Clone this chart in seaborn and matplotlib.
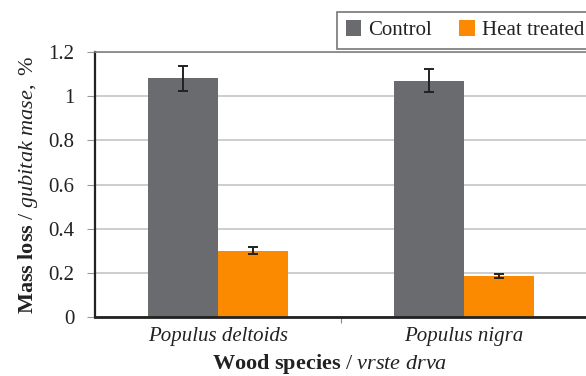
import matplotlib
matplotlib.use("Agg")
import matplotlib.pyplot as plt
import seaborn as sns
import pandas as pd
from matplotlib.patches import Patch

species = ["Populus deltoids", "Populus nigra"]
treatments = ["Control", "Heat treated"]
control_loss = [1.08, 1.07]
control_err = [0.055, 0.053]
heat_loss = [0.30, 0.186]
heat_err = [0.016, 0.010]
y_ticks = [0, 0.2, 0.4, 0.6, 0.8, 1.0, 1.2]
y_tick_labels = ["0", "0.2", "0.4", "0.6", "0.8", "1", "1.2"]

colors = {"Control": "#6a6b6f", "Heat treated": "#fb8a00"}

df = pd.DataFrame({
    "species": species * 2,
    "treatment": ["Control"] * 2 + ["Heat treated"] * 2,
    "loss": control_loss + heat_loss,
    "err": control_err + heat_err,
})

sns.set_style("white")
plt.rcParams["font.family"] = ["Liberation Serif", "DejaVu Serif"]
plt.rcParams["mathtext.fontset"] = "custom"
plt.rcParams["mathtext.rm"] = "Liberation Serif"
plt.rcParams["mathtext.bf"] = "Liberation Serif:bold"
plt.rcParams["mathtext.it"] = "Liberation Serif:italic"

fig = plt.figure(figsize=(5.86, 3.76), dpi=100)
ax = fig.add_axes([95 / 586, 59 / 376, 492 / 586, 265 / 376])

sns.barplot(data=df, x="species", y="loss", hue="treatment", order=species,
            hue_order=treatments, palette=colors, width=0.57, gap=0,
            errorbar=None, saturation=1, linewidth=0, legend=False, ax=ax)

# error bars at the centres of the drawn bars
for patch, (_, row) in zip(ax.patches, df.iterrows()):
    cx = patch.get_x() + patch.get_width() / 2
    ax.errorbar(cx, patch.get_height(), yerr=row["err"], fmt="none",
                ecolor="#222222", elinewidth=1.4, capsize=3.4, capthick=1.4,
                zorder=5)

ax.set_xlim(-0.5, 1.5)
ax.set_ylim(0, 1.2)
ax.set_yticks(y_ticks, y_tick_labels)
ax.yaxis.grid(True, color="#c0c0c0", linewidth=1.1)
ax.set_axisbelow(True)

ax.set_xticks([0, 1], species, fontstyle="italic")
ax.set_xticks([0.5], minor=True)
ax.tick_params(axis="x", which="major", length=0, pad=7, labelsize=15)
ax.tick_params(axis="x", which="minor", length=4, width=0.8, color="#888888",
               direction="out", bottom=True)
ax.tick_params(axis="y", length=6, width=0.8, color="#999999", direction="out",
               left=True, pad=9, labelsize=15, labelcolor="#222222")
ax.tick_params(axis="x", labelcolor="#222222")

for side in ["left", "bottom"]:
    ax.spines[side].set_color("#222222")
ax.spines["left"].set_linewidth(1.6)
ax.spines["bottom"].set_linewidth(2.0)
ax.spines["top"].set_color("#808080")
ax.spines["top"].set_linewidth(1.2)
ax.spines["right"].set_visible(False)

ax.set_xlabel("")
ax.set_ylabel(r"$\mathbf{Mass\ loss}\ \mathrm{/}\ \mathit{gubitak\ mase,}\ \mathrm{\%}$",
              fontsize=16, color="#222222", labelpad=6)
fig.text(330 / 586, 1 - 364 / 376,
         r"$\mathbf{Wood\ species}\ \mathrm{/}\ \mathit{vrste\ drva}$",
         ha="center", va="center", fontsize=16, color="#222222")

handles = [Patch(facecolor=colors[t], edgecolor="none") for t in treatments]
leg = fig.legend(handles, treatments, loc="upper right",
                 bbox_to_anchor=(1.012, 1 - 12 / 376), ncol=2, fontsize=15,
                 frameon=True, fancybox=False, borderpad=0.4,
                 handlelength=0.75, handleheight=0.75, handletextpad=0.35,
                 columnspacing=1.3, borderaxespad=0)
leg.get_frame().set_edgecolor("#555555")
leg.get_frame().set_linewidth(1.2)
for t in leg.get_texts():
    t.set_color("#222222")

fig.savefig("out.png", dpi=100)
